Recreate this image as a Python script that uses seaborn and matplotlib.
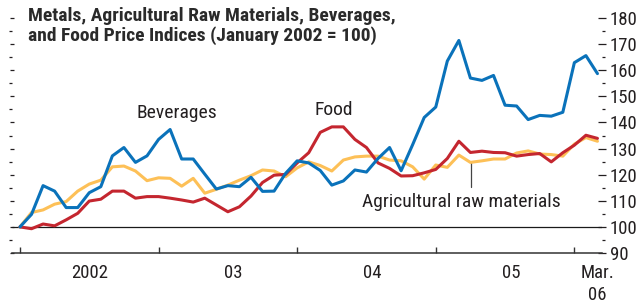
import matplotlib
matplotlib.use("Agg")
import matplotlib.pyplot as plt
import matplotlib.ticker as mticker
import numpy as np
import pandas as pd
import seaborn as sns

# monthly index, Jan 2002 .. Mar 2006 (January 2002 = 100)
beverages = [100, 104.8, 115.8, 113.7, 107.4, 107.4, 113.1, 115.4, 127.2, 130.4,
             124.7, 127.2, 133.5, 137.3, 126, 126, 120.2, 114.5, 115.8, 115.4,
             119, 113.6, 113.7, 120.5, 125.3, 124.5, 121.6, 116, 117.6, 121.8,
             121, 126.2, 130.4, 121.5, 131.5, 141.9, 145.9, 163.5, 171.4, 157,
             156.1, 158, 146.6, 146.3, 141.1, 142.7, 142.4, 143.9, 162.9, 165.6, 158.7]
food = [100, 99.3, 101.1, 100.4, 102.7, 105.2, 109.9, 110.6, 113.7, 113.7,
        111, 111.6, 111.6, 111, 110.3, 109.5, 111, 108.4, 105.8, 107.7,
        111.8, 117, 119.8, 120.1, 124.5, 128.4, 136.2, 138.3, 138.3, 133.5,
        130.4, 124.5, 122.4, 119.5, 119.6, 120.7, 122, 126.2, 132.8, 128.5,
        129, 128.5, 128.4, 127.1, 127.7, 128.1, 124.9, 128.4, 131.3, 135.1, 133.9]
agri = [100, 105.5, 106.5, 108.7, 109.7, 113.7, 116.4, 117.9, 123, 123.3,
        121.4, 117.7, 118.8, 118.6, 115.6, 118.6, 112.9, 114.4, 116, 117.9,
        119.6, 121.8, 121.4, 119.2, 122.6, 124.9, 123.5, 121.4, 125.6, 126.8,
        127.1, 127.1, 125.6, 125.3, 123, 118.3, 123.7, 122.8, 127.5, 124.7,
        125.3, 126, 126, 128.3, 129.1, 127.9, 127.7, 127.1, 131.7, 134.2, 132.8]

year_ticks = [0, 12, 24, 36, 48]
label_pos = [6, 18.5, 30.5, 42.5, 50]
label_text = ["2002", "03", "04", "05", "Mar.\n06"]

months = np.arange(len(food))
df = pd.DataFrame({
    "month": np.concatenate([months, months, months]),
    "value": beverages + food + agri,
    "series": ["Beverages"] * len(months) + ["Food"] * len(months)
              + ["Agricultural raw materials"] * len(months),
})
palette = {"Beverages": "#0a72ba", "Food": "#c4262f", "Agricultural raw materials": "#fdc057"}

sns.set_theme(style="white")
plt.rcParams["font.family"] = ["Roboto Condensed", "Archivo Narrow", "DejaVu Sans"]
txt = "#231f20"

fig = plt.figure(figsize=(6.39, 3.05), dpi=100)
ax = fig.add_axes([12 / 639, 1 - 253 / 305, (601.5 - 12) / 639, (253 - 18) / 305])

ax.axhline(100, color="#1a1a1a", lw=0.9, zorder=1)
sns.lineplot(data=df, x="month", y="value", hue="series", palette=palette,
             hue_order=["Agricultural raw materials", "Food", "Beverages"],
             lw=2.2, legend=False, ax=ax, zorder=3)

ax.set_xlim(-0.69, 50.35)
ax.set_ylim(90, 180)
ax.set_xlabel("")
ax.set_ylabel("")

for s in ["top", "left", "right"]:
    ax.spines[s].set_visible(False)
ax.spines["bottom"].set_color("#333333")
ax.spines["bottom"].set_linewidth(1.1)

# y axis: labels on right, plain ticks on left
ax.yaxis.set_major_locator(mticker.MultipleLocator(10))
ax.yaxis.set_minor_locator(mticker.MultipleLocator(5))
ax.tick_params(axis="y", which="both", left=True, right=True, labelleft=False,
               labelright=True, colors=txt, labelsize=13.5, width=0.9)
ax.tick_params(axis="y", which="major", direction="inout", length=6, pad=3)
ax.tick_params(axis="y", which="minor", direction="out", length=2.5)
for t in ax.yaxis.get_major_ticks():
    t.tick1line.set_markersize(3.5)
for t in ax.yaxis.get_minor_ticks():
    t.tick1line.set_markersize(2.5)

# x axis
ax.set_xticks(year_ticks)
ax.set_xticklabels([])
ax.set_xticks(label_pos, minor=True)
ax.set_xticklabels(label_text, minor=True)
ax.tick_params(axis="x", which="major", direction="in", length=4.5, width=1.0,
               color="#333333", bottom=True)
ax.tick_params(axis="x", which="minor", length=0, pad=8, labelsize=13.5,
               labelcolor=txt)
for lab in ax.get_xticklabels(minor=True):
    lab.set_linespacing(1.25)

# series labels
ax.text(13.6, 141.6, "Beverages", ha="center", va="baseline", fontsize=14, color=txt)
ax.text(27.2, 142.7, "Food", ha="center", va="baseline", fontsize=14, color=txt)
ax.text(38.2, 107.7, "Agricultural raw materials", ha="center", va="baseline",
        fontsize=14, color=txt)
ax.plot([39.05, 39.05], [115.4, 124.9], color="#444444", lw=0.9, zorder=2)

fig.text(28 / 639, 1 - 7 / 305,
         "Metals, Agricultural Raw Materials, Beverages,\nand Food Price Indices (January 2002 = 100)",
         ha="left", va="top", fontsize=14, fontweight="bold", color="#2a2a2a",
         linespacing=1.1)

fig.savefig("out.png", dpi=100)
